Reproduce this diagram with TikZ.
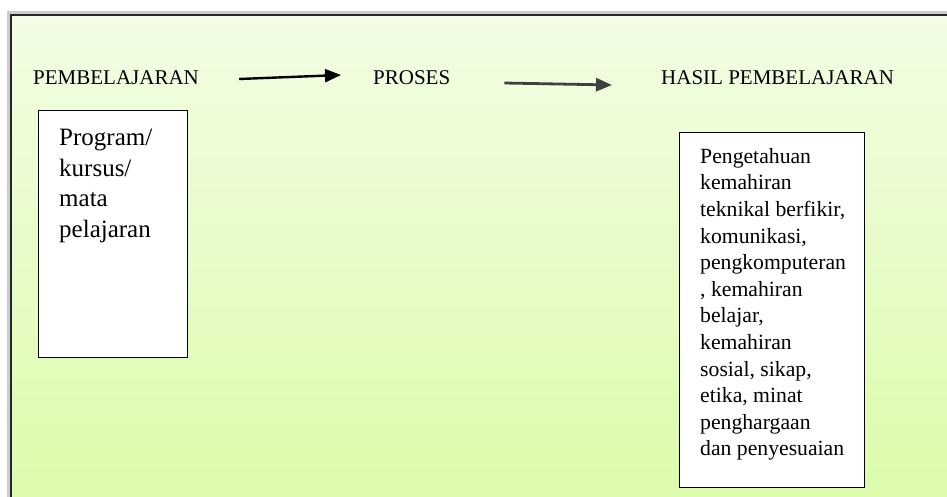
\documentclass[tikz,border=0pt]{standalone}
\usepackage{fontspec}
\setmainfont{Liberation Serif}
\usetikzlibrary{arrows.meta, positioning}
\definecolor{bgtop}{HTML}{F2FDE4}
\definecolor{bgbot}{HTML}{DBFBA8}

\begin{document}
\begin{tikzpicture}[
            x = 1pt, y = -1pt, % one unit per pixel, y downwards
            > = {Triangle[length=16pt, width=13pt]}, % arrow head style
            line width = 2.4pt
        ]

        \tikzstyle{title}=[
            font = \fontsize{21}{25}\selectfont,
            inner sep = 0pt,
            anchor = west
        ]
        \tikzstyle{box}=[
            draw = black,
            line width = 1.4pt,
            fill = white,
            anchor = north west,
            inner sep = 0pt
        ]
        \tikzstyle{boxtext}=[
            anchor = north west,
            align = left,
            inner sep = 0pt
        ]

        \clip (0,0) rectangle (947,496);
        % frame round the whole diagram
        \draw[black!20, line width=3pt] (8,12) rectangle (970,520);
        \shade[top color=bgtop, bottom color=bgbot, draw=black!85, line width=2pt]
            (11,15) rectangle (970,520);

        \node[title] (pemb) at (32,78) {PEMBELAJARAN};
        \node[title] (proses) at (372,78) {PROSES};
        \node[title] (hasil) at (660,78) {HASIL PEMBELAJARAN};

	\draw[->, black] ([xshift=39pt, yshift=-1pt]pemb.east) -- ([xshift=-31pt, yshift=3pt]proses.west);
	\draw[->, black!75, line width=2.8pt] ([xshift=53pt, yshift=-5pt]proses.east) -- ([xshift=-48pt, yshift=-7pt]hasil.west);

        \node[box, minimum width=149, minimum height=247] (prog) at (38,110) {};
        \node[boxtext, font=\fontsize{25}{30.5}\selectfont] (progtext)
            at ([xshift=20pt, yshift=-18pt]prog.north west)
            {Program/\\kursus/\\mata\\pelajaran};

        \node[box, minimum width=185, minimum height=355] (hasilbox) at (679,132) {};
        \node[boxtext, font=\fontsize{21.7}{26.6}\selectfont] (hasiltext)
            at ([xshift=20pt, yshift=-15pt]hasilbox.north west)
            {Pengetahuan\\kemahiran\\teknikal berfikir,\\komunikasi,\\pengkomputeran\\, kemahiran\\belajar,\\kemahiran\\sosial, sikap,\\etika, minat\\penghargaan\\dan penyesuaian};
    \end{tikzpicture}
\end{document}
